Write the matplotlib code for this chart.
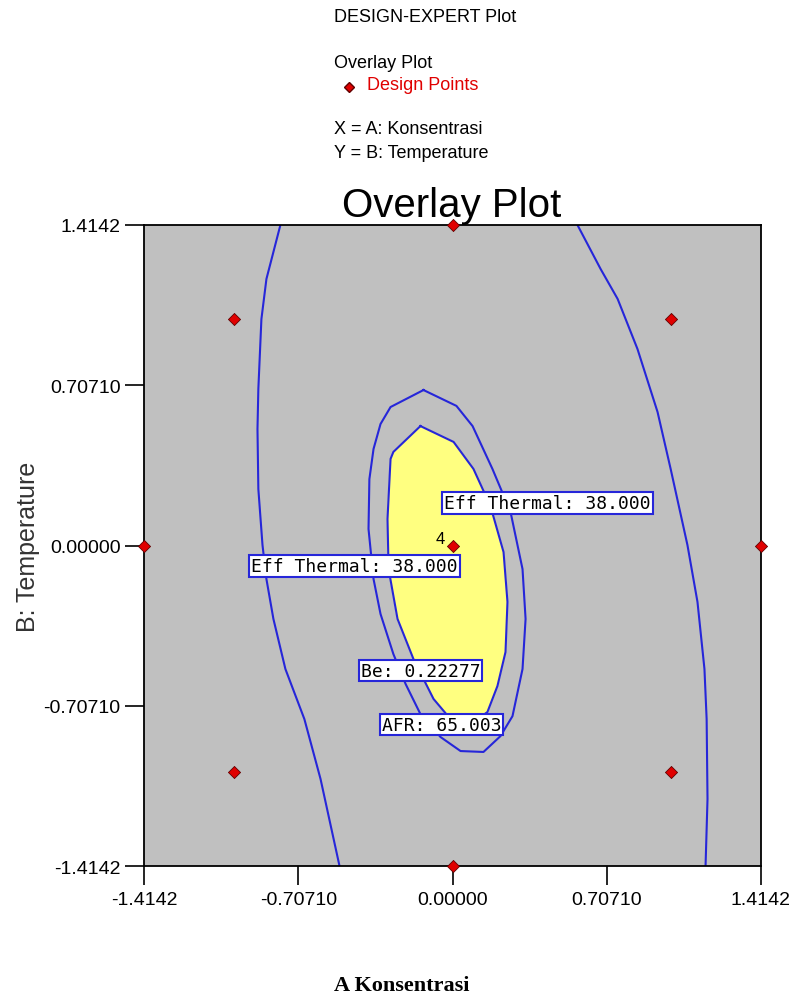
import matplotlib.pyplot as plt
import numpy as np

# design points (coded units)
pts_a = [-1, 1, -1, 1, -1.4142, 1.4142, 0, 0, 0]
pts_b = [-1, -1, 1, 1, 0, 0, -1.4142, 1.4142, 0]
center_runs = 4

tick_vals = [-1.4142, -0.70710, 0.0, 0.70710, 1.4142]
tick_labels = ['-1.4142', '-0.70710', '0.00000', '0.70710', '1.4142']

# Eff Thermal 38.000 contours, left and right branch
eff_left_a = [-0.789, -0.853, -0.876, -0.890, -0.894, -0.890, -0.871, -0.853,
              -0.821, -0.766, -0.679, -0.605, -0.518]
eff_left_b = [1.414, 1.176, 0.999, 0.691, 0.514, 0.249, 0.002, -0.148,
              -0.324, -0.545, -0.766, -1.030, -1.414]
eff_right_a = [0.573, 0.679, 0.757, 0.848, 0.940, 1.000, 1.077, 1.123,
               1.155, 1.165, 1.169, 1.160]
eff_right_b = [1.414, 1.220, 1.088, 0.867, 0.589, 0.338, 0.002, -0.249,
               -0.545, -0.766, -1.119, -1.414]

# AFR 65.003 contour (outer ring)
afr_a = [-0.133, 0.018, 0.092, 0.183, 0.266, 0.321, 0.335, 0.321, 0.275, 0.220,
         0.142, 0.037, -0.055, -0.147, -0.215, -0.271, -0.330, -0.362, -0.385,
         -0.381, -0.362, -0.330, -0.284, -0.133]
afr_b = [0.686, 0.616, 0.527, 0.338, 0.148, -0.104, -0.324, -0.545, -0.753, -0.841,
         -0.911, -0.907, -0.845, -0.744, -0.611, -0.479, -0.302, -0.148, 0.073,
         0.293, 0.426, 0.536, 0.611, 0.686]

# Be 0.22277 contour (inner ring, feasible region inside)
be_a = [-0.147, 0.005, 0.096, 0.174, 0.234, 0.252, 0.243, 0.206, 0.160, 0.083,
        -0.009, -0.087, -0.179, -0.252, -0.293, -0.298, -0.284, -0.271, -0.147]
be_b = [0.527, 0.457, 0.338, 0.174, -0.029, -0.249, -0.470, -0.620, -0.735, -0.788,
        -0.766, -0.677, -0.501, -0.324, -0.104, 0.117, 0.382, 0.413, 0.527]

W, H = 796, 995
fig = plt.figure(figsize=(W / 100, H / 100), dpi=100)
ax = fig.add_axes([144 / W, 1 - 867 / H, 617 / W, 641 / H])
ax.set_facecolor('#c0c0c0')

blue = '#2626d9'
ax.fill(be_a, be_b, color='#ffff80', zorder=1)
ax.plot(be_a, be_b, color=blue, lw=1.5, zorder=2)
ax.plot(afr_a, afr_b, color=blue, lw=1.5, zorder=2)
ax.plot(eff_left_a, eff_left_b, color=blue, lw=1.5, zorder=2)
ax.plot(eff_right_a, eff_right_b, color=blue, lw=1.5, zorder=2)

ax.scatter(pts_a, pts_b, marker='D', s=38, color='#e00000', edgecolor='#600000',
           linewidth=0.6, zorder=5, clip_on=False)
ax.text(-0.035, 0.0, str(center_runs), ha='right', va='bottom', fontsize=12,
        family='Liberation Sans', zorder=6)

box = dict(boxstyle='square,pad=0.1', facecolor='white', edgecolor=blue, lw=1.5)
lab_font = dict(family='DejaVu Sans Mono', fontsize=13, zorder=7, va='center', ha='center')
ax.text(0.436, 0.188, 'Eff Thermal: 38.000', bbox=box, **lab_font)
ax.text(-0.449, -0.090, 'Eff Thermal: 38.000', bbox=box, **lab_font)
ax.text(-0.147, -0.552, 'Be: 0.22277', bbox=box, **lab_font)
ax.text(-0.050, -0.790, 'AFR: 65.003', bbox=box, **lab_font)

ax.set_xlim(-1.4142, 1.4142)
ax.set_ylim(-1.4142, 1.4142)
ax.set_xticks(tick_vals)
ax.set_xticklabels(tick_labels)
ax.set_yticks(tick_vals)
ax.set_yticklabels(tick_labels)
ax.tick_params(direction='out', length=14, width=1.2, labelsize=14, pad=3)
ax.tick_params(axis='x', pad=4)
for s in ax.spines.values():
    s.set_linewidth(1.3)
plt.setp(ax.get_xticklabels() + ax.get_yticklabels(), family='Liberation Sans')

ax.set_ylabel('B: Temperature', fontsize=18, family='Liberation Sans', color='#333333',
              labelpad=2)
fig.text(402 / W, 1 - 991 / H, 'A Konsentrasi', ha='center', va='baseline', fontsize=16,
         fontweight='bold', family='Liberation Serif')

fig.text(452 / W, 1 - 217 / H, 'Overlay Plot', ha='center', va='baseline', fontsize=29,
         family='Liberation Sans')

hx = 334 / W
fig.text(hx, 1 - 17 / H, 'DESIGN-EXPERT Plot', va='center', fontsize=13,
         family='Liberation Sans')
fig.text(hx, 1 - 63 / H, 'Overlay Plot', va='center', fontsize=13, family='Liberation Sans')
fig.text(367 / W, 1 - 85 / H, 'Design Points', va='center', fontsize=13, color='#e00000',
         family='Liberation Sans')
fig.lines.append(plt.Line2D([349 / W], [1 - 88 / H], marker='D', markersize=5,
                            color='#e00000', markeredgecolor='#600000',
                            transform=fig.transFigure))
fig.text(hx, 1 - 129 / H, 'X = A: Konsentrasi', va='center', fontsize=13,
         family='Liberation Sans')
fig.text(hx, 1 - 153 / H, 'Y = B: Temperature', va='center', fontsize=13,
         family='Liberation Sans')

fig.savefig('out.png', dpi=100)
